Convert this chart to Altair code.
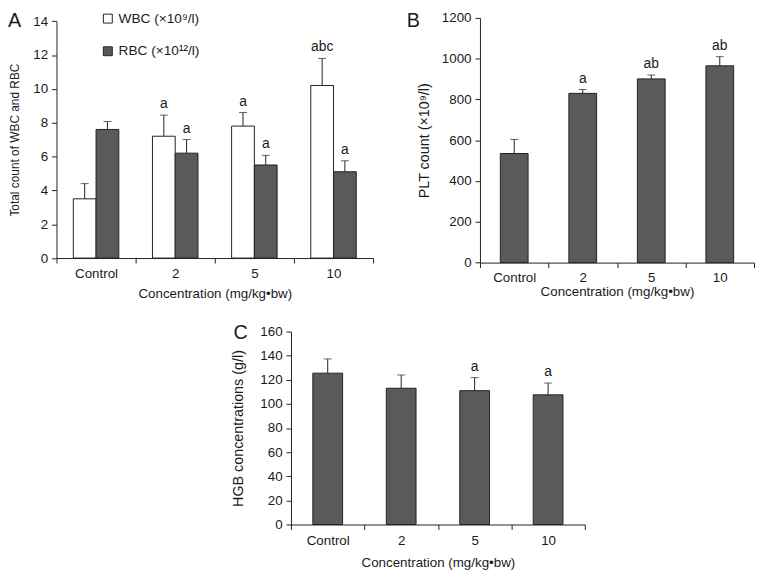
import altair as alt
import pandas as pd

FONT = "Liberation Sans"
INK = "#1a1a1a"
DARK = "#5a5a5a"
FS = 13.5

groups = ["Control", "2", "5", "10"]
series = ["WBC (×10⁹/l)", "RBC (×10¹²/l)"]

wbc_mean = [3.5, 7.2, 7.8, 10.2]
wbc_top = [4.4, 8.45, 8.6, 11.8]
wbc_sig = ["", "a", "a", "abc"]
rbc_mean = [7.6, 6.2, 5.5, 5.1]
rbc_top = [8.07, 7.0, 6.07, 5.75]
rbc_sig = ["", "a", "a", "a"]

plt_mean = [535, 830, 901, 965]
plt_top = [604, 849, 920, 1010]
plt_sig = ["", "a", "ab", "ab"]

hgb_mean = [125.5, 113, 111, 107.5]
hgb_top = [137.3, 124, 121.8, 117.3]
hgb_sig = ["", "", "a", "a"]

xtitle = "Concentration (mg/kg•bw)"

df_a = pd.DataFrame({
    "group": groups * 2,
    "series": [series[0]] * 4 + [series[1]] * 4,
    "mean": wbc_mean + rbc_mean,
    "top": wbc_top + rbc_top,
    "sig": wbc_sig + rbc_sig,
})
df_b = pd.DataFrame({"group": groups, "mean": plt_mean, "top": plt_top, "sig": plt_sig})
df_c = pd.DataFrame({"group": groups, "mean": hgb_mean, "top": hgb_top, "sig": hgb_sig})


def xenc(label_pad, title_pad):
    return alt.X(
        "group:N", sort=groups,
        scale=alt.Scale(paddingInner=0, paddingOuter=0),
        axis=alt.Axis(title=xtitle, tickBand="extent", labelAngle=0,
                      labelPadding=label_pad, titlePadding=title_pad),
    )


def ymaker(title, dmax, step, title_pad, title_size, rng=None):
    sc = alt.Scale(domain=[0, dmax], nice=False, range=rng) if rng else \
        alt.Scale(domain=[0, dmax], nice=False)
    vals = list(range(0, dmax + 1, step))
    ax = alt.Axis(title=title, values=vals, titlePadding=title_pad, titleFontSize=title_size,
                  labelPadding=4, labelOverlap=False, format="d", tickCount=len(vals))

    def f(field):
        return alt.Y(f"{field}:Q", scale=sc, axis=ax, title=title)
    return f


def letter(ch, x, y):
    return alt.Chart(pd.DataFrame({"t": [ch]})).mark_text(
        fontSize=20, font=FONT, align="left", baseline="top", color=INK
    ).encode(text="t:N", x=alt.value(x), y=alt.value(y))


def panel(base, x, y, extra=None, bar_kw=None, **kw):
    extra = extra or {}
    bar_kw = bar_kw or {}
    bars = base.mark_bar(stroke="#222", strokeWidth=1, **bar_kw).encode(
        x=x, y=y("mean"), **extra, **kw)
    rule = base.mark_rule(color="#222", strokeWidth=1).encode(
        x=x, y=y("mean"), y2="top:Q", **kw)
    cap = base.mark_tick(color="#222", size=8, thickness=1).encode(
        x=x, y=y("top"), **kw)
    txt = base.mark_text(baseline="bottom", dy=-4, fontSize=14, font=FONT, color=INK).encode(
        x=x, y=y("top"), text="sig:N", **kw)
    return [bars, rule, cap, txt]


# ---------- Panel A ----------
HA = 242.7
xa = xenc(4, 6)
xoff = alt.XOffset("series:N", sort=series,
                   scale=alt.Scale(domain=series, paddingInner=0, paddingOuter=0.74))
ya = ymaker("Total count of WBC and RBC", 14, 2, 11, 12, rng=[HA, 3.3])
color_a = alt.Color("series:N", sort=series,
                    scale=alt.Scale(domain=series, range=["white", DARK]),
                    legend=alt.Legend(title=None, orient="none", legendX=45, legendY=-6.2,
                                      symbolType="square", symbolSize=81,
                                      symbolStrokeColor="#222", symbolStrokeWidth=1,
                                      labelFont=FONT, labelFontSize=13.8, labelColor=INK,
                                      rowPadding=18, padding=0, labelOffset=4))
layers_a = panel(alt.Chart(df_a), xa, ya, extra={"color": color_a}, xOffset=xoff)
panel_a = alt.layer(*layers_a, letter("A", -49, -7)).properties(width=320, height=HA)

# ---------- Panel B ----------
xb = xenc(3, 1)
yb = ymaker("PLT count (×10⁹/l)", 1200, 200, 10, 14.5)
layers_b = panel(alt.Chart(df_b), xb, yb,
                 bar_kw={"color": DARK, "width": alt.RelativeBandSize(0.405)})
panel_b = alt.layer(*layers_b, letter("B", -74, -7)).properties(width=277, height=247.3)

# ---------- Panel C ----------
xc = xenc(4, 9)
yc = ymaker("HGB concentrations (g/l)", 160, 20, 14, 14.5)
layers_c = panel(alt.Chart(df_c), xc, yc,
                 bar_kw={"color": DARK, "width": alt.RelativeBandSize(0.405)})
panel_c = alt.layer(*layers_c, letter("C", -58, -8.8)).properties(width=297, height=195)

spacer = alt.Chart(pd.DataFrame({"t": [""]})).mark_text().encode(
    text="t:N", x=alt.value(0), y=alt.value(0)).properties(width=176, height=10)

top_row = alt.hconcat(panel_a, panel_b, spacing=33)
bottom_row = alt.hconcat(spacer, panel_c, spacing=0)

chart = alt.vconcat(top_row, bottom_row, spacing=23).properties(
    padding={"left": 0, "top": 0, "right": 2, "bottom": 2}
).configure_view(stroke=None).configure_axis(
    domainColor="#222", tickColor="#222", labelColor=INK, titleColor=INK,
    labelFont=FONT, titleFont=FONT, labelFontSize=FS, titleFontSize=FS,
    titleFontWeight="normal", grid=False, tickSize=5, domainWidth=1, tickWidth=1,
).configure_concat(spacing=0)

chart.save("out.html", embed_options={"renderer": "svg", "actions": False})
